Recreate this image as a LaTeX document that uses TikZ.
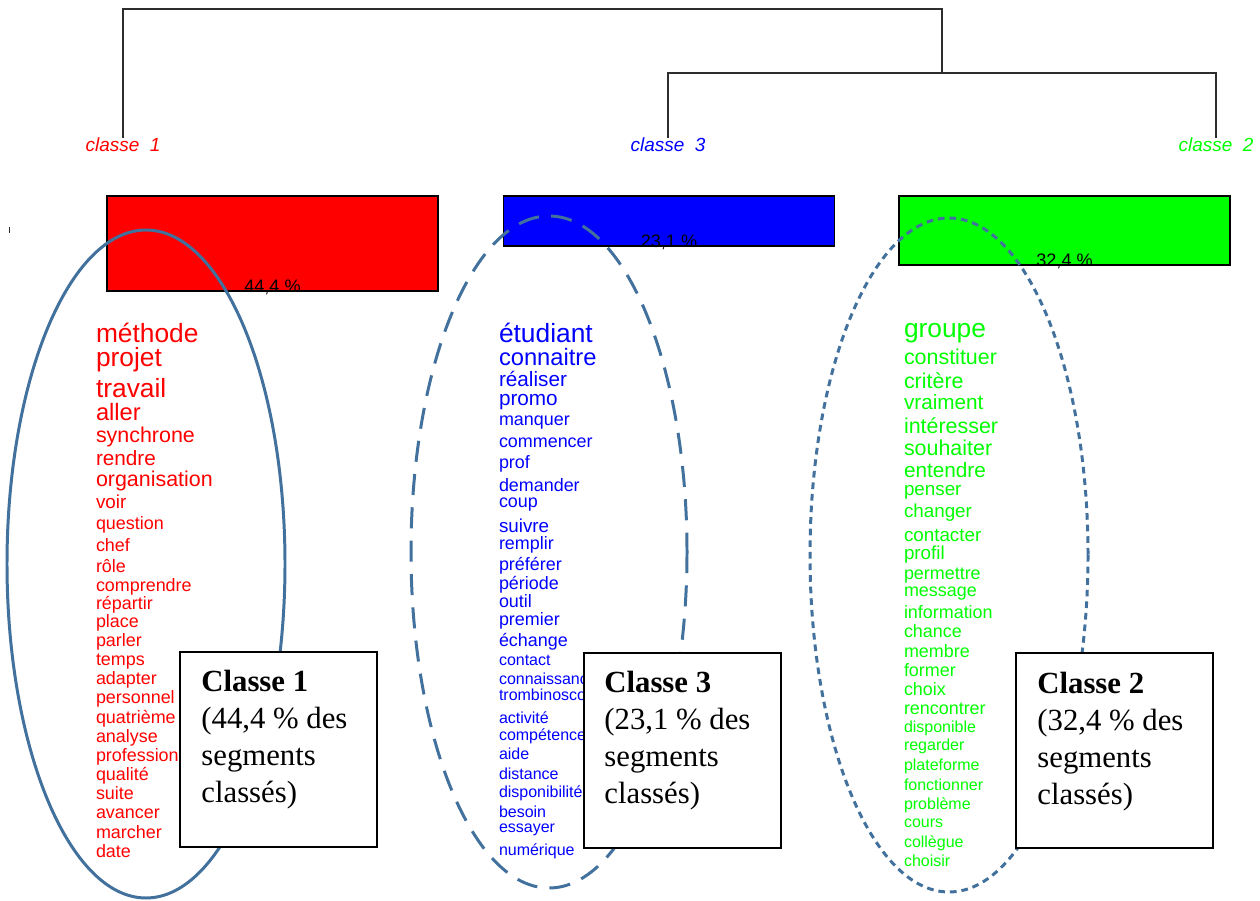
\documentclass[tikz,border=0pt]{standalone}
\usepackage{fontspec}
\setmainfont{Liberation Serif}
\newfontfamily\motfont{Liberation Sans}
\usepackage{tikz}
\usetikzlibrary{positioning}
\definecolor{contour}{RGB}{65,113,156}
\definecolor{trait}{RGB}{45,45,45}
\tikzstyle{mot} = [anchor=base west, inner sep=0pt, outer sep=0pt]
\tikzstyle{rouge} = [mot, text=red]
\tikzstyle{bleu} = [mot, text=blue]
\tikzstyle{vert} = [mot, text=green]
\tikzstyle{tA} = [font=\motfont\fontsize{15}{17}\selectfont]
\tikzstyle{tB} = [font=\motfont\fontsize{13.5}{16}\selectfont]
\tikzstyle{tC} = [font=\motfont\fontsize{12.2}{14}\selectfont]
\tikzstyle{tD} = [font=\motfont\fontsize{11.8}{14}\selectfont]
\tikzstyle{tE} = [font=\motfont\fontsize{10.7}{12}\selectfont]
\tikzstyle{tF} = [font=\motfont\fontsize{10.2}{12}\selectfont]
\tikzstyle{tG} = [font=\motfont\fontsize{9.1}{11}\selectfont]
\tikzstyle{classe} = [anchor=base, inner sep=0pt, font=\motfont\itshape\fontsize{10.8}{12}\selectfont]
\tikzstyle{barre} = [draw=black, line width=0.8pt, minimum width=6.62cm, inner sep=0pt]
\tikzstyle{pct} = [anchor=base, inner sep=0pt, font=\motfont\fontsize{10.3}{12}\selectfont]
\tikzstyle{boite} = [draw=black, fill=white, line width=1.1pt, minimum width=3.94cm, minimum height=3.9cm, inner sep=0pt]
\tikzstyle{legende} = [anchor=north west, inner sep=0pt, align=left, font=\fontsize{17.5}{21}\selectfont]
\tikzstyle{arbre} = [draw=trait, line width=1.1pt]

\begin{document}
\begin{tikzpicture}[x=0.02cm, y=-0.02cm]
                        \useasboundingbox (0,0) rectangle (1260,901);
                        \fill[white] (0,0) rectangle (1260,901);

                        \node[classe, text=red] (cl1) at (123,152) {classe\ \ 1};
                        \node[classe, text=blue] (cl3) at (668,152) {classe\ \ 3};
                        \node[classe, text=green] (cl2) at (1216,152) {classe\ \ 2};
                        \coordinate (racine) at (942,9);
                        \coordinate (noeud) at (942,73);
                        \draw[arbre] (cl1.north) |- (racine) -- (noeud);
                        \draw[arbre] (cl3.north) |- (noeud) -| (cl2.north);

                        \draw[trait, line width=0.5pt] (9,227) -- (9,233);

                        \node[barre, fill=red, minimum height=1.9cm] (barre1) at (272.5,243.5) {};
                        \node[barre, fill=blue, minimum height=1.0cm] (barre3) at (669,221) {};
                        \node[barre, fill=green, minimum height=1.38cm] (barre2) at (1064.5,230.5) {};
                        \node[pct] (p1) at ([yshift=-0.02cm]barre1.south) {44,4 \%};
                        \node[pct] (p3) at ([yshift=-0.02cm]barre3.south) {23,1 \%};
                        \node[pct] (p2) at ([yshift=-0.02cm]barre2.south) {32,4 \%};

                        \node[rouge, tA] (r1) at (96,343) {méthode};
                        \node[rouge, tA] (r2) at (96,367) {projet};
                        \node[rouge, tA] (r3) at (96,398) {travail};
                        \node[rouge, tB] (r4) at (96,421) {aller};
                        \node[rouge, tC] (r5) at (96,443) {synchrone};
                        \node[rouge, tD] (r6) at (96,466) {rendre};
                        \node[rouge, tC] (r7) at (96,487) {organisation};
                        \node[rouge, tE] (r8) at (96,509) {voir};
                        \node[rouge, tF] (r9) at (96,529) {question};
                        \node[rouge, tF] (r10) at (96,551) {chef};
                        \node[rouge, tF] (r11) at (96,572) {rôle};
                        \node[rouge, tF] (r12) at (96,591) {comprendre};
                        \node[rouge, tF] (r13) at (96,609) {répartir};
                        \node[rouge, tF] (r14) at (96,627) {place};
                        \node[rouge, tF] (r15) at (96,646) {parler};
                        \node[rouge, tF] (r16) at (96,665) {temps};
                        \node[rouge, tF] (r17) at (96,684) {adapter};
                        \node[rouge, tF] (r18) at (96,703) {personnel};
                        \node[rouge, tF] (r19) at (96,723) {quatrième};
                        \node[rouge, tF] (r20) at (96,742) {analyse};
                        \node[rouge, tF] (r21) at (96,761) {professionnel};
                        \node[rouge, tF] (r22) at (96,780) {qualité};
                        \node[rouge, tF] (r23) at (96,799) {suite};
                        \node[rouge, tF] (r24) at (96,818) {avancer};
                        \node[rouge, tF] (r25) at (96,838) {marcher};
                        \node[rouge, tF] (r26) at (96,857) {date};

                        \node[bleu, tA] (b1) at (499,343) {étudiant};
                        \node[bleu, tB] (b2) at (499,366) {connaitre};
                        \node[bleu, tD] (b3) at (499,387) {réaliser};
                        \node[bleu, tD] (b4) at (499,406) {promo};
                        \node[bleu, tF] (b5) at (499,426) {manquer};
                        \node[bleu, tF] (b6) at (499,448) {commencer};
                        \node[bleu, tF] (b7) at (499,469) {prof};
                        \node[bleu, tF] (b8) at (499,492) {demander};
                        \node[bleu, tF] (b9) at (499,508) {coup};
                        \node[bleu, tE] (b10) at (499,533) {suivre};
                        \node[bleu, tF] (b11) at (499,549) {remplir};
                        \node[bleu, tF] (b12) at (499,570) {préférer};
                        \node[bleu, tF] (b13) at (499,589) {période};
                        \node[bleu, tF] (b14) at (499,607) {outil};
                        \node[bleu, tF] (b15) at (499,625) {premier};
                        \node[bleu, tF] (b16) at (499,646) {échange};
                        \node[bleu, tG] (b17) at (499,665) {contact};
                        \node[bleu, tG] (b18) at (499,684) {connaissance};
                        \node[bleu, tG] (b19) at (499,700) {trombinoscope};
                        \node[bleu, tG] (b20) at (499,723) {activité};
                        \node[bleu, tG] (b21) at (499,740) {compétence};
                        \node[bleu, tG] (b22) at (499,759) {aide};
                        \node[bleu, tG] (b23) at (499,779) {distance};
                        \node[bleu, tG] (b24) at (499,797) {disponibilité};
                        \node[bleu, tG] (b25) at (499,817) {besoin};
                        \node[bleu, tG] (b26) at (499,832) {essayer};
                        \node[bleu, tG] (b27) at (499,855) {numérique};

                        \node[vert, tA] (v1) at (904,338) {groupe};
                        \node[vert, tC] (v2) at (904,365) {constituer};
                        \node[vert, tC] (v3) at (904,389) {critère};
                        \node[vert, tD] (v4) at (904,410) {vraiment};
                        \node[vert, tC] (v5) at (904,434) {intéresser};
                        \node[vert, tC] (v6) at (904,456) {souhaiter};
                        \node[vert, tD] (v7) at (904,478) {entendre};
                        \node[vert, tE] (v8) at (904,496) {penser};
                        \node[vert, tE] (v9) at (904,518) {changer};
                        \node[vert, tE] (v10) at (904,541) {contacter};
                        \node[vert, tE] (v11) at (904,560) {profil};
                        \node[vert, tF] (v12) at (904,580) {permettre};
                        \node[vert, tF] (v13) at (904,596) {message};
                        \node[vert, tF] (v14) at (904,618) {information};
                        \node[vert, tF] (v15) at (904,637) {chance};
                        \node[vert, tF] (v16) at (904,657) {membre};
                        \node[vert, tF] (v17) at (904,676) {former};
                        \node[vert, tF] (v18) at (904,695) {choix};
                        \node[vert, tF] (v19) at (904,714) {rencontrer};
                        \node[vert, tG] (v20) at (904,732) {disponible};
                        \node[vert, tG] (v21) at (904,750) {regarder};
                        \node[vert, tG] (v22) at (904,770) {plateforme};
                        \node[vert, tG] (v23) at (904,790) {fonctionner};
                        \node[vert, tG] (v24) at (904,809) {problème};
                        \node[vert, tG] (v25) at (904,827) {cours};
                        \node[vert, tG] (v26) at (904,847) {collègue};
                        \node[vert, tG] (v27) at (904,866) {choisir};

                        \draw[contour, line width=1.7pt] (146,564) ellipse [x radius=139, y radius=334];
                        \draw[contour, line width=1.7pt, dash pattern=on 12pt off 7pt] (549,552) ellipse [x radius=138, y radius=336];
                        \draw[contour, line width=1.7pt, dash pattern=on 3.8pt off 2.8pt] (949,555) ellipse [x radius=139, y radius=337];

                        \node[boite] (boite1) at (278.5,749.5) {};
                        \node[boite] (boite3) at (682.5,750.5) {};
                        \node[boite] (boite2) at (1114.5,750.5) {};
                        \node[legende] (leg1) at ([xshift=0.44cm,yshift=-0.38cm]boite1.north west)
                            {\textbf{Classe 1}\\(44,4 \% des\\segments\\classés)};
                        \node[legende] (leg3) at ([xshift=0.42cm,yshift=-0.38cm]boite3.north west)
                            {\textbf{Classe 3}\\(23,1 \% des\\segments\\classés)};
                        \node[legende] (leg2) at ([xshift=0.44cm,yshift=-0.40cm]boite2.north west)
                            {\textbf{Classe 2}\\(32,4 \% des\\segments\\classés)};
\end{tikzpicture}
\end{document}
